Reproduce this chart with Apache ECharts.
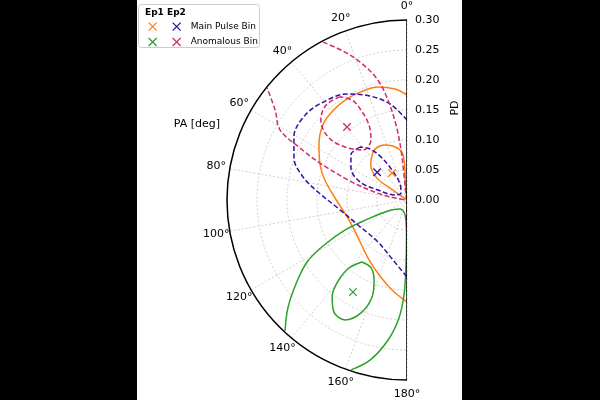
<!DOCTYPE html>
<html>
<head>
    <meta charset="utf-8">
    <script src="https://cdn.jsdelivr.net/npm/echarts@6.0.0/dist/echarts.min.js"></script>
</head>
<body style="margin:0">
    <div id="main" style="width:600px; height:400px;"></div>
</body>
<script type="text/javascript">
    // every point is [PD, PA in deg]
    const ep1MainMarker = [[0.0515, 29]];
    const ep1MainInner = [[0, 50], [0.035, 55], [0.062, 54], [0.084, 46], [0.097, 36], [0.101, 29], [0.098, 21],
        [0.091, 13], [0.080, 6], [0.060, 4], [0.034, 5], [0.013, 7], [0, 50]];
    const ep1MainOuter = [[0.175, 0], [0.186, 6.2], [0.1945, 14.4], [0.196, 23.5], [0.196, 31.8], [0.193, 40.4],
        [0.188, 48.2], [0.173, 58], [0.156, 68.1], [0.141, 76.3], [0.120, 88.4], [0.103, 107], [0.103, 127.8],
        [0.1165, 146.1], [0.1345, 160.4], [0.1535, 171.3], [0.170, 180]];

    const ep1AnomMarker = [[0.178, 149.6]];
    const ep1AnomInner = [[0.1277, 144], [0.128, 152.1], [0.144, 157.6], [0.172, 160.2], [0.203, 157.85],
        [0.225, 152.7], [0.223, 146.9], [0.204, 142.3], [0.177, 139.6], [0.149, 139.5], [0.1277, 144]];
    const ep1AnomOuter = [[0.298, 137], [0.268, 132.2], [0.232, 127.1], [0.196, 121.8], [0.157, 118.5],
        [0.115, 115.8], [0.072, 116], [0.0366, 120.1], [0.019, 142.1], [0.025, 172.4], [0.0583, 179.2],
        [0.108, 179.1], [0.158, 178.2], [0.197, 176.1], [0.2355, 172.3], [0.274, 167], [0.298, 161.8]];

    const ep2MainMarker = [[0.068, 47]];
    const ep2MainInner = [[0.118, 41.6], [0.120, 51.2], [0.1075, 60.3], [0.084, 69], [0.051, 71], [0.0217, 67.4],
        [0.0154, 40.6], [0.029, 23.6], [0.056, 26.6], [0.084, 31.2], [0.105, 36], [0.118, 41.6]];
    const ep2MainOuter = [[0.1333, 0], [0.1625, 10], [0.184, 19.6], [0.203, 29.5], [0.214, 39.6], [0.221, 50.2],
        [0.2157, 60.9], [0.201, 69.6], [0.1775, 77.5], [0.149, 84.9], [0.116, 96.6], [0.0917, 117],
        [0.0847, 143.8], [0.1027, 166.9], [0.1283, 180]];

    const ep2AnomMarker = [[0.1575, 39.4]];
    const ep2AnomInner = [[0.205, 33], [0.208, 40.45], [0.196, 47.1], [0.168, 51.4], [0.136, 49.5],
        [0.111, 41.35], [0.1166, 31], [0.140, 26.9], [0.1685, 27.1], [0.190, 28.8], [0.205, 33]];
    const ep2AnomOuter = [[0.298, 28], [0.270, 23.2], [0.243, 18.8], [0.208, 13.9], [0.170, 10.8], [0.126, 8.3],
        [0.084, 6.8], [0.042, 6.8], [0.0085, 11], [0, 45], [0.020, 80.5], [0.051, 76.9], [0.100, 71.6],
        [0.1576, 67], [0.198, 64.1], [0.2418, 61.1], [0.266, 55.7], [0.299, 51.3]];
    const ep2AnomTail = [[0, 180], [0.045, 179]];

    // PA tick labels (deg)
    const paTicks = [0, 20, 40, 60, 80, 100, 120, 140, 160, 180];

    const spine = [[0.3, 0], [0, 0], [0.3, 180]];

    const colEp1Main = '#ff7f0e';
    const colEp1Anom = '#2ca02c';
    const colEp2Main = '#3a0ca3';
    const colEp2Anom = '#cf2e6b';
    const font = 'DejaVu Sans';
    const grid = { color: '#c4c4c4', width: 0.8, type: [2, 2] };
    const paLabelRadius = 0.323;

    const contour = (data, color, dashed) => ({
        type: 'line', coordinateSystem: 'polar', data: data,
        symbol: 'none', smooth: 0.35, silent: true, z: 3,
        lineStyle: { color: color, width: 1.5, type: dashed ? [5, 2.5] : 'solid' }
    });
    const marker = (name, data, color) => ({
        type: 'scatter', name: name, coordinateSystem: 'polar', data: data,
        symbol: 'path://M0,0L10,10M10,0L0,10', symbolSize: 7.5, z: 4,
        itemStyle: { color: 'rgba(0,0,0,0)', borderColor: color, borderWidth: 1.3, opacity: 1 }
    });
    const legendBase = {
        top: 22, orient: 'vertical', itemWidth: 8, itemHeight: 8, itemGap: 6, padding: 0,
        selectedMode: false,
        itemStyle: { borderWidth: 1.3, opacity: 1 },
        textStyle: { fontSize: 9, color: '#000', fontFamily: font, padding: [0, 0, 0, 5] }
    };

    const myChart = echarts.init(document.getElementById('main'));
    const option = {
        backgroundColor: '#000',
        animation: false,
        textStyle: { fontFamily: font },
        polar: { center: [407, 200], radius: 180 },
        angleAxis: {
            type: 'value', min: 0, max: 180, interval: 20,
            startAngle: 90, endAngle: 270, clockwise: false, z: 1,
            axisLine: { lineStyle: { color: '#000', width: 1.5 } },
            axisTick: { show: false },
            axisLabel: { show: false },
            splitLine: { lineStyle: grid }
        },
        radiusAxis: {
            type: 'value', min: 0, max: 0.3, interval: 0.05,
            axisLine: { show: false },
            axisTick: { show: false },
            axisLabel: { formatter: v => v.toFixed(2), color: '#000', fontSize: 11, margin: -8, align: 'left', fontFamily: font },
            splitLine: { lineStyle: grid }
        },
        legend: [
            Object.assign({}, legendBase, {
                left: 148, formatter: () => '',
                data: ['Ep1 Main Pulse Bin', 'Ep1 Anomalous Bin']
            }),
            Object.assign({}, legendBase, {
                left: 172, formatter: n => n.slice(4),
                data: ['Ep2 Main Pulse Bin', 'Ep2 Anomalous Bin']
            })
        ],
        graphic: [
            { type: 'rect', z: -10, silent: true, shape: { x: 137, y: 0, width: 325, height: 400 }, style: { fill: '#fff' } },
            { type: 'rect', z: 1, silent: true, shape: { x: 138.5, y: 4.5, width: 121, height: 43, r: 3 }, style: { fill: '#fff', stroke: '#cccccc', lineWidth: 1 } },
            { type: 'text', z: 2, x: 145, y: 13, style: { text: 'Ep1', font: 'bold 9px "DejaVu Sans"', fill: '#000', verticalAlign: 'middle' } },
            { type: 'text', z: 2, x: 167, y: 13, style: { text: 'Ep2', font: 'bold 9px "DejaVu Sans"', fill: '#000', verticalAlign: 'middle' } },
            { type: 'text', z: 2, x: 197, y: 124, style: { text: 'PA [deg]', font: '11px "DejaVu Sans"', fill: '#000', align: 'center', verticalAlign: 'middle' } },
            { type: 'text', z: 2, x: 455, y: 108, rotation: Math.PI / 2, style: { text: 'PD', font: '11px "DejaVu Sans"', fill: '#000', align: 'center', verticalAlign: 'middle' } }
        ],
        series: [
            contour(ep1MainInner, colEp1Main, false),
            contour(ep1MainOuter, colEp1Main, false),
            contour(ep1AnomInner, colEp1Anom, false),
            contour(ep1AnomOuter, colEp1Anom, false),
            contour(ep2MainInner, colEp2Main, true),
            contour(ep2MainOuter, colEp2Main, true),
            contour(ep2AnomInner, colEp2Anom, true),
            contour(ep2AnomOuter, colEp2Anom, true),
            contour(ep2AnomTail, colEp2Anom, true),
            {
                type: 'line', coordinateSystem: 'polar', data: spine, symbol: 'none', silent: true, z: 5,
                lineStyle: { color: '#000', width: 1.5 }
            },
            {
                // PA tick labels, centred just outside the rim like matplotlib does
                type: 'scatter', coordinateSystem: 'polar', clip: false, silent: true, z: 5,
                data: paTicks.map(a => [paLabelRadius, a]),
                symbolSize: 1, itemStyle: { color: 'rgba(0,0,0,0)', opacity: 1 },
                label: {
                    show: true, position: 'inside', color: '#000', fontSize: 11, fontFamily: font, opacity: 1,
                    formatter: p => p.value[1] + '°'
                }
            },
            marker('Ep1 Main Pulse Bin', ep1MainMarker, colEp1Main),
            marker('Ep1 Anomalous Bin', ep1AnomMarker, colEp1Anom),
            marker('Ep2 Main Pulse Bin', ep2MainMarker, colEp2Main),
            marker('Ep2 Anomalous Bin', ep2AnomMarker, colEp2Anom)
        ]
    };
    option && myChart.setOption(option);
</script>
</html>
